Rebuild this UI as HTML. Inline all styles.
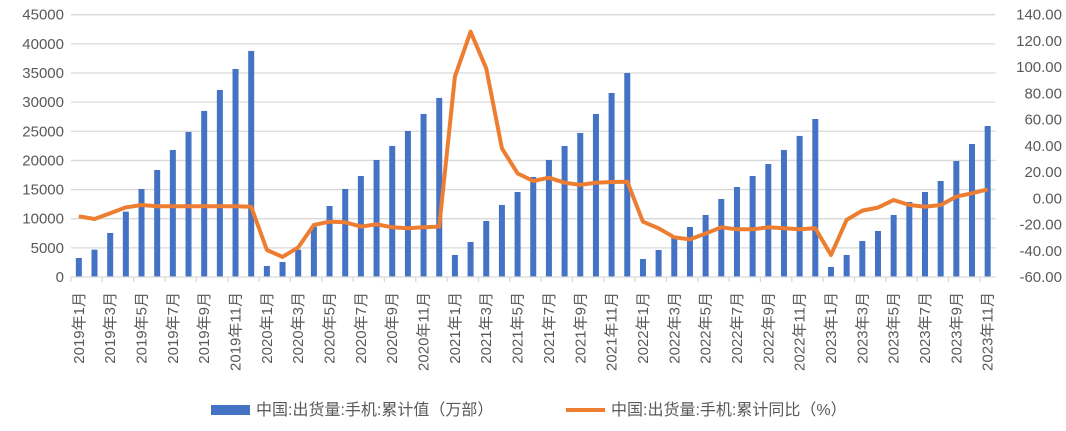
<!DOCTYPE html>
<html><head><meta charset="utf-8"><style>
body{margin:0;background:#fff;}
svg text{font-family:"Liberation Sans","Noto Sans CJK SC",sans-serif;fill:#595959;}
</style></head><body>
<svg id="chart" width="1066" height="426" viewBox="0 0 1066 426" xmlns="http://www.w3.org/2000/svg">
<g id="grid"></g>
<g id="bars"></g>
<g id="line"></g>
<g id="axes"></g>
<g>
<rect x="211" y="405" width="39" height="10" fill="#4472C4"/>
<text x="256" y="415" font-size="16">中国:出货量:手机:累计值（万部）</text>
<line x1="566" y1="410" x2="605" y2="410" stroke="#ED7D31" stroke-width="4"/>
<text x="611" y="415" font-size="16">中国:出货量:手机:累计同比（%）</text>
</g>
</svg>
<script>
const barValues=[3260,4690,7550,11210,15100,18360,21790,24880,28490,32090,35690,38780,
1890,2570,4690,8640,12180,15100,17330,20080,22480,25050,27970,30720,
3780,6010,9610,12360,14590,17160,20080,22480,24710,27970,31570,35000,
3090,4630,7000,8580,10640,13380,15440,17330,19390,21790,24200,27110,
1720,3780,6180,7890,10640,12870,14590,16470,19900,22820,25910];
const lineValues=[-13.7,-15.8,-11.4,-6.9,-5.1,-6.0,-6.0,-6.0,-6.0,-6.0,-6.0,-6.5,
-39.4,-44.7,-37.4,-20.3,-17.8,-18.3,-21.6,-19.8,-22.1,-22.9,-22.1,-21.6,
92.7,127.0,99.1,38.1,19.0,13.2,15.7,11.9,10.2,11.9,12.4,12.7,
-17.8,-22.9,-29.7,-31.3,-26.8,-22.1,-23.6,-23.6,-22.1,-22.9,-23.6,-22.9,
-43.2,-16.5,-9.4,-7.1,-1.3,-5.1,-6.4,-5.1,1.3,3.8,6.9];
const leftTicks=[0,5000,10000,15000,20000,25000,30000,35000,40000,45000];
const rightTicks=[-60,-40,-20,0,20,40,60,80,100,120,140];
const categories=[];
for(let y=2019;y<=2023;y++)for(let m=1;m<=12;m++){if(y===2023&&m===12)break;categories.push(y+'年'+m+'月');}

const NS='http://www.w3.org/2000/svg';
const X0=71,X1=995.5,YT=14.7,YB=277;
const bw=(X1-X0)/categories.length;
const xc=i=>X0+bw*(i+0.5);
const yL=v=>YB-(v-0)/(45000)*(YB-YT);
const yR=v=>YB-(v+60)/200*(YB-YT);
function mk(tag,attrs,parent){const e=document.createElementNS(NS,tag);for(const k in attrs)e.setAttribute(k,attrs[k]);parent.appendChild(e);return e;}
const grid=document.getElementById('grid'),bars=document.getElementById('bars'),line=document.getElementById('line'),axes=document.getElementById('axes');
leftTicks.forEach((t,i)=>{
 const y=yL(t);
 if(i>0){const g=mk('line',{x1:X0,x2:X1,y1:y,y2:y,stroke:'#d9d9d9','stroke-width':1.3},grid);
 
 }
 const tx=mk('text',{x:64,y:y+5,'font-size':15,'text-anchor':'end'},axes);tx.textContent=t;
 
 
});
rightTicks.forEach(t=>{
 const tx=mk('text',{x:1062,y:yR(t)+5,'font-size':15,'text-anchor':'end'},axes);tx.textContent=t.toFixed(2);
 
 
});
const ax=mk('line',{x1:X0,x2:X1,y1:YB,y2:YB,stroke:'#d9d9d9','stroke-width':1.3},axes);


barValues.forEach((v,i)=>{
 const r=mk('rect',{x:xc(i)-3,y:yL(v),width:6,height:YB-yL(v),fill:'#4472C4'},bars);
 
 
});
const pts=lineValues.map((v,i)=>xc(i).toFixed(1)+','+yR(v).toFixed(1)).join(' ');
const pl=mk('polyline',{points:pts,fill:'none',stroke:'#ED7D31','stroke-width':4,'stroke-linejoin':'round'},line);


categories.forEach((c,i)=>{
 if(i%2===0){
  const tk=mk('line',{x1:X0+bw*i,x2:X0+bw*i,y1:YB,y2:YB+5,stroke:'#d9d9d9','stroke-width':1.3},axes);
  
  
  const x=xc(i)+5,y=292;
  const tx=mk('text',{x:x,y:y,'font-size':15,'text-anchor':'end',transform:'rotate(-90 '+x+' '+y+')'},axes);
  tx.textContent=c;
  
  
 }
});
</script>
</body></html>
